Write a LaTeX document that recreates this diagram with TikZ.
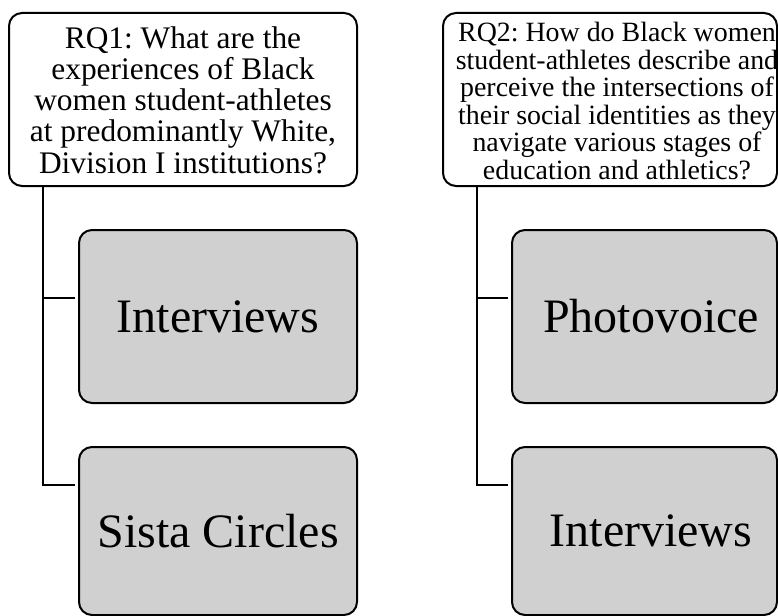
\documentclass[tikz,border=0pt]{standalone}
\usepackage{fontspec}
\setmainfont{Liberation Serif}
\definecolor{boxgray}{RGB}{208,208,208}
\frenchspacing
\begin{document}
\begin{tikzpicture}[x=1pt,y=-1pt,
  qbox/.style={draw=black, line width=2pt, rounded corners=13pt, fill=white, inner sep=0pt},
  mbox/.style={draw=black, line width=2pt, rounded corners=13pt, fill=boxgray, inner sep=0pt,
    font=\fontsize{48}{56}\selectfont},
  conn/.style={draw=black, line width=2.2pt}]
\useasboundingbox (0,0) rectangle (778,615);
\clip (0,0) rectangle (778,615);
% RQ1 column
\node[qbox, minimum width=348pt, minimum height=173pt] (rq1) at (183,99.5) {};
\node[align=center, inner sep=0pt, font=\fontsize{31.4}{31.2}\selectfont] (t1) at (183,100)
  {RQ1: What are the\\experiences of Black\\women student-athletes\\at predominantly White,\\Division I institutions?};
\node[mbox, minimum width=278pt, minimum height=173pt] (m1) at (218,316.5) {Interviews};
\node[mbox, minimum width=278pt, minimum height=168pt] (m2) at (218,531) {Sista Circles};
% RQ2 column
\node[qbox, minimum width=334pt, minimum height=173pt] (rq2) at (610,99.5) {};
\node[align=center, inner sep=0pt, font=\fontsize{27.9}{27.6}\selectfont] (t2) at (617,101)
  {RQ2: How do Black women\\student-athletes describe and\\perceive the intersections of\\their social identities as they\\navigate various stages of\\education and athletics?};
\node[mbox, minimum width=265pt, minimum height=173pt] (p1) at (644.5,316.5) {\hspace*{13pt}Photovoice};
\node[mbox, minimum width=265pt, minimum height=168pt] (p2) at (644.5,531) {\hspace*{13pt}Interviews};
% connectors
\coordinate (j1) at ([xshift=35pt]rq1.south west);
\coordinate (j2) at ([xshift=35pt]rq2.south west);
\draw[conn] (j1) |- ([xshift=-3pt,yshift=18.5pt]m1.west);
\draw[conn] (j1) |- ([xshift=-3pt,yshift=46pt]m2.west);
\draw[conn] (j2) |- ([xshift=-3pt,yshift=18.5pt]p1.west);
\draw[conn] (j2) |- ([xshift=-3pt,yshift=46pt]p2.west);
\end{tikzpicture}
\end{document}
